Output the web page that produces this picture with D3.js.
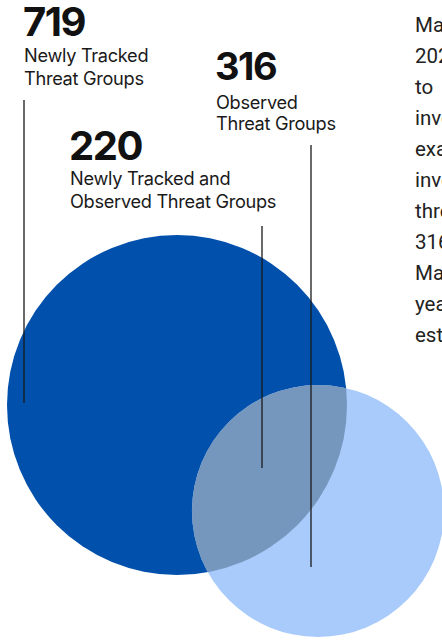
<!DOCTYPE html>
<html><head><meta charset="utf-8">
<script src="https://cdn.jsdelivr.net/npm/d3@7"></script>
<style>html,body{margin:0;padding:0;background:#fff;overflow:hidden}svg{display:block}</style>
</head><body><svg id="c" width="442" height="640"></svg>
<script>
const setNames = ["Newly Tracked Threat Groups", "Observed Threat Groups"];
const setValues = [719, 316];
const overlapValue = 220;
const labelNumbers = ["719", "316", "220"];
const labelLines = [["Newly Tracked", "Threat Groups"], ["Observed", "Threat Groups"], ["Newly Tracked and", "Observed Threat Groups"]];
const paragraph = [
  "Mandiant began tracking 719 new threat groups in",
  "2023. Many of these groups were first identified",
  "to     be active during incident response",
  "investigations. For",
  "example, of the newly tracked groups, Mandiant",
  "investigated activity from 220 of these",
  "threat groups. In total, Mandiant observed",
  "316 threat groups during investigations.",
  "Mandiant continues to track groups from prior",
  "years alongside newly",
  "established threat clusters."
];

const svg = d3.select("#c");
const rScale = d3.scalePow().exponent(0.364).domain([0, 719]).range([0, 170]);
const centers = [[177, 405], [318, 511]];
const colors = ["#0050ac", "#a8cbfb"];
const overlapColor = "#7597bd";

svg.append("defs").append("clipPath").attr("id", "bigclip")
  .append("circle").attr("cx", centers[0][0]).attr("cy", centers[0][1]).attr("r", rScale(setValues[0]));

svg.selectAll("circle.set").data(setValues).join("circle").attr("class", "set")
  .attr("cx", (d, i) => centers[i][0]).attr("cy", (d, i) => centers[i][1])
  .attr("r", d => rScale(d)).attr("fill", (d, i) => colors[i]);

svg.append("circle").attr("clip-path", "url(#bigclip)")
  .attr("cx", centers[1][0]).attr("cy", centers[1][1]).attr("r", rScale(setValues[1]))
  .attr("fill", overlapColor).datum(overlapValue);

// labels
const labelPos = [{x: 24, y: 36, fs: 40, lineY: [62, 85], lead: [100, 403], lx: 24},
                  {x: 216, y: 80, fs: 38, lineY: [109, 130], lead: [145, 567], lx: 311},
                  {x: 70, y: 160, fs: 40, lineY: [185, 208], lead: [226, 468], lx: 262}];
labelNumbers.forEach((n, i) => {
  const p = labelPos[i];
  const g = svg.append("g");
  g.append("text").attr("x", p.x - 1).attr("y", p.y).text(n)
    .attr("font-family", "Inter, 'Noto Sans', sans-serif").attr("font-weight", 700)
    .attr("font-size", p.fs).attr("letter-spacing", -1.5).attr("fill", "#111");
  labelLines[i].forEach((t, j) => {
    g.append("text").attr("x", p.x).attr("y", p.lineY[j]).text(t)
      .attr("font-family", "Inter, 'Noto Sans', sans-serif").attr("font-size", 18.2)
      .attr("letter-spacing", -0.3).attr("fill", "#1a1a1a");
  });
  g.append("line").attr("x1", p.lx).attr("x2", p.lx).attr("y1", p.lead[0]).attr("y2", p.lead[1])
    .attr("stroke", "#1a1a1a").attr("stroke-width", 1.3);
});

svg.append("text").attr("font-family", "Roboto, Arial, sans-serif").attr("font-size", 20.5)
  .attr("fill", "#222").attr("xml:space", "preserve").style("white-space", "pre")
  .selectAll("tspan").data(paragraph).join("tspan")
  .attr("x", 415).attr("y", (d, i) => 32 + i * 31).text(d => d);
</script></body></html>
